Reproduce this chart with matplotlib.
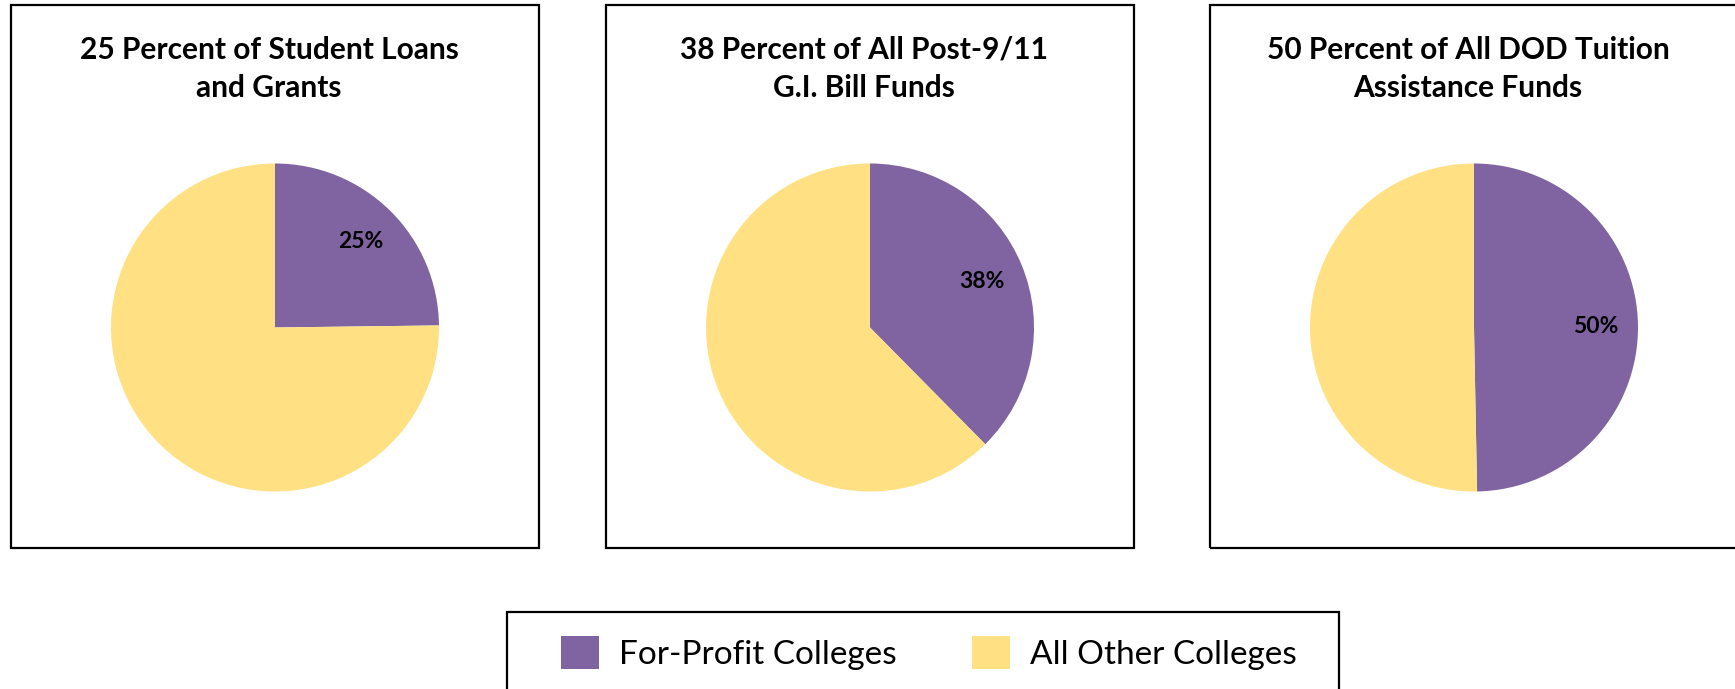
import matplotlib
matplotlib.use("Agg")
import matplotlib.pyplot as plt
from matplotlib.patches import Rectangle, Patch
import numpy as np

plt.rcParams['font.family'] = ['Lato', 'DejaVu Sans']

# ---- data ----
titles = ["25 Percent of Student Loans\nand Grants",
          "38 Percent of All Post-9/11\nG.I. Bill Funds",
          "50 Percent of All DOD Tuition\nAssistance Funds"]
for_profit = [24.8, 37.6, 49.7]
categories = ["For-Profit Colleges", "All Other Colleges"]
colors = ["#8064A2", "#FFE082"]

W, H = 1735, 689
fig = plt.figure(figsize=(W / 100, H / 100), dpi=100)

def fx(px):
    return px / W

def fy(py):
    return 1 - py / H

box_lefts = [11, 606, 1210]
box_w = 528
box_top, box_bot = 5, 548
pie_dx = 264
pie_cy = 327.5
R = 164

for i, (title, fp) in enumerate(zip(titles, for_profit)):
    bl = box_lefts[i]
    fig.patches.append(Rectangle((fx(bl), fy(box_bot)), fx(box_w), (box_bot - box_top) / H,
                                 transform=fig.transFigure, fill=False,
                                 edgecolor="black", linewidth=1.6, clip_on=False))
    cx = bl + pie_dx
    ax = fig.add_axes([fx(cx - R), fy(pie_cy + R), fx(2 * R), 2 * R / H])
    vals = [fp, 100 - fp]
    wedges, _ = ax.pie(vals, colors=colors, startangle=90, counterclock=False,
                       radius=1.0, wedgeprops=dict(linewidth=0))
    w = wedges[0]
    mid = np.deg2rad((w.theta1 + w.theta2) / 2)
    ax.text(0.74 * np.cos(mid), 0.74 * np.sin(mid), f"{fp:.0f}%",
            ha="center", va="center", fontsize=16.5, fontweight="bold", color="black")
    ax.set_xlim(-1, 1)
    ax.set_ylim(-1, 1)
    ax.set_aspect("equal")
    ax.axis("off")
    fig.text(fx(cx - 6), fy(69), title, ha="center", va="center", fontsize=21.5,
             fontweight="bold", linespacing=1.45)

# legend frame
fig.patches.append(Rectangle((fx(507), fy(720)), fx(1339 - 507), (720 - 612) / H,
                             transform=fig.transFigure, fill=False,
                             edgecolor="black", linewidth=1.6, clip_on=False))
handles = [Patch(facecolor=c, edgecolor="none") for c in colors]
fig.legend(handles, categories, loc="center", bbox_to_anchor=(fx(929), fy(653)),
           ncol=2, frameon=False, fontsize=24, handlelength=1.14, handleheight=1.14,
           handletextpad=0.6, columnspacing=2.25)

fig.savefig("out.png", dpi=100)
